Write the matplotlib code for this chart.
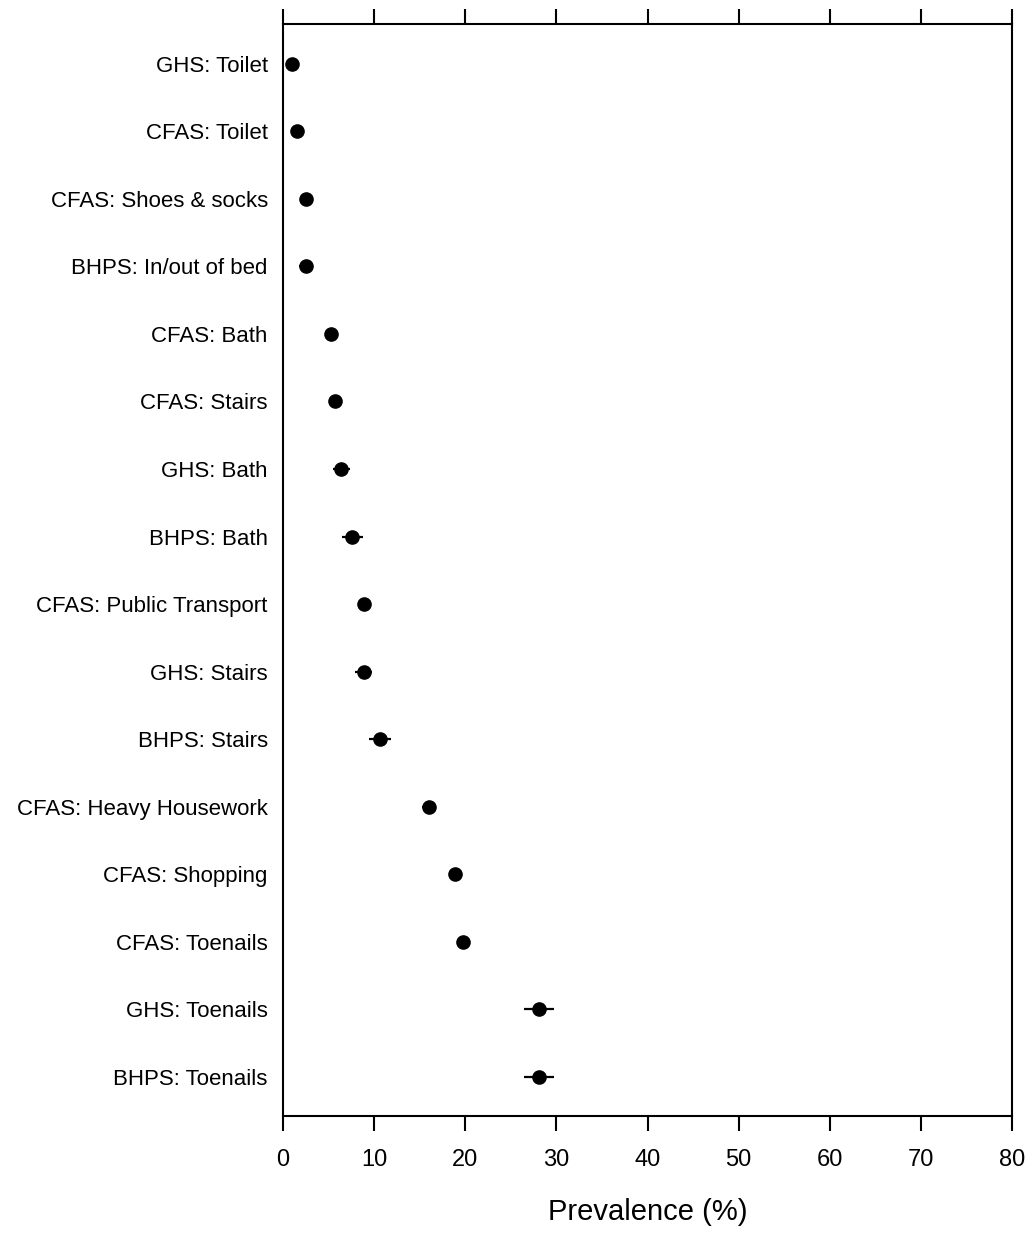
import matplotlib
matplotlib.use("Agg")
import matplotlib.pyplot as plt

# -----------------------------
# Data
# -----------------------------
labels = [
    "GHS: Toilet", "CFAS: Toilet", "CFAS: Shoes & socks", "BHPS: In/out of bed",
    "CFAS: Bath", "CFAS: Stairs", "GHS: Bath", "BHPS: Bath",
    "CFAS: Public Transport", "GHS: Stairs", "BHPS: Stairs",
    "CFAS: Heavy Housework", "CFAS: Shopping", "CFAS: Toenails",
    "GHS: Toenails", "BHPS: Toenails",
]
prevalence = [1.0, 1.5, 2.5, 2.5, 5.3, 5.7, 6.4, 7.6,
              8.9, 8.9, 10.6, 16.0, 18.9, 19.8, 28.05, 28.05]
lower = [0.6, 1.1, 2.1, 1.7, 4.9, 5.3, 5.45, 6.5,
         8.5, 7.9, 9.4, 15.3, 18.5, 19.3, 26.4, 26.4]
upper = [1.4, 1.9, 2.9, 3.3, 5.7, 6.1, 7.4, 8.75,
         9.3, 9.8, 11.9, 16.5, 19.3, 20.3, 29.7, 29.7]

plt.rcParams['font.family'] = ['Liberation Sans', 'DejaVu Sans']

# -----------------------------
# Plot
# -----------------------------
fig = plt.figure(figsize=(10.3, 12.34), dpi=100)
ax = fig.add_axes([0.2748, 0.0956, 0.9825 - 0.2748, 0.9806 - 0.0956])

ypos = list(range(len(labels)))
xerr = [[p - l for p, l in zip(prevalence, lower)],
        [u - p for p, u in zip(prevalence, upper)]]
ax.errorbar(prevalence, ypos, xerr=xerr, fmt='o', color='black',
            markersize=9.5, elinewidth=1.6, capsize=0)

ax.set_xlim(0, 80)
ax.set_ylim(len(labels) - 0.42, -0.59)
ax.set_xticks(range(0, 81, 10))
ax.set_yticks(ypos)
ax.set_yticklabels(labels, fontsize=16)
ax.tick_params(axis='y', length=0, pad=11)
ax.tick_params(axis='x', direction='out', length=10.5, width=1.5,
               labelsize=17, pad=13, top=True)

for s in ax.spines.values():
    s.set_linewidth(1.5)

ax.set_xlabel("Prevalence (%)", fontsize=21, labelpad=20)

plt.savefig("out.png", dpi=100)
